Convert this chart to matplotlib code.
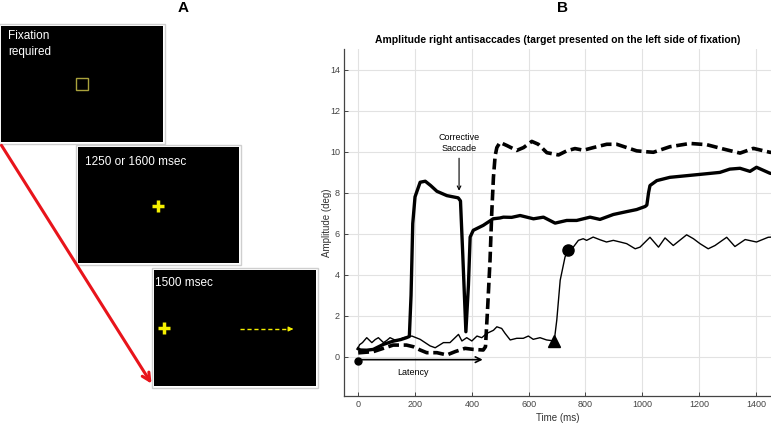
import matplotlib.pyplot as plt
from matplotlib.patches import Rectangle, FancyArrowPatch

plt.rcParams['font.family'] = ['Liberation Sans', 'DejaVu Sans']

# thick solid trace (corrective saccade)
t_solid = [0, 7, 30, 53, 88, 123, 150, 170, 180, 186, 192, 200, 218, 236, 255, 277, 312, 352, 360,
           368, 379, 388, 394, 405, 440, 475, 499, 511, 540, 570, 617, 652, 693, 734, 769, 816, 851,
           898, 945, 980, 1010, 1016, 1022, 1027, 1051, 1097, 1156, 1215, 1273, 1308, 1344, 1379,
           1402, 1449, 1470]
a_solid = [0.4, 0.34, 0.33, 0.37, 0.61, 0.77, 0.85, 0.94, 1.0, 3.0, 6.5, 7.8, 8.51, 8.56, 8.35, 8.07,
           7.86, 7.75, 7.6, 5.0, 1.23, 3.5, 5.84, 6.17, 6.41, 6.73, 6.77, 6.81, 6.8, 6.89, 6.73, 6.81,
           6.52, 6.65, 6.65, 6.81, 6.7, 6.94, 7.08, 7.18, 7.33, 7.4, 8.0, 8.35, 8.59, 8.75, 8.83, 8.91,
           8.99, 9.15, 9.19, 9.04, 9.24, 8.95, 8.9]

# thin solid trace
t_thin = [0, 5, 15, 30, 48, 60, 71, 89, 100, 112, 136, 159, 189, 218, 253, 271, 300, 323, 341, 353,
          365, 382, 400, 418, 435, 453, 476, 488, 505, 517, 535, 558, 581, 599, 616, 640, 663, 690,
          699, 711, 728, 740, 757, 775, 792, 804, 827, 851, 874, 898, 922, 945, 975, 992, 1027, 1057,
          1080, 1109, 1156, 1180, 1203, 1232, 1256, 1297, 1326, 1362, 1402, 1443, 1470]
a_thin = [0.45, 0.6, 0.7, 0.94, 0.7, 0.85, 0.94, 0.7, 0.8, 0.94, 0.78, 0.94, 1.02, 0.86, 0.54, 0.45,
          0.7, 0.7, 0.94, 1.1, 0.78, 0.94, 0.78, 1.02, 0.94, 1.15, 1.3, 1.47, 1.39, 1.15, 0.83, 0.91,
          0.91, 1.02, 0.86, 0.94, 0.83, 0.78, 1.8, 3.74, 4.87, 5.19, 5.35, 5.68, 5.76, 5.68, 5.84,
          5.71, 5.6, 5.68, 5.6, 5.52, 5.27, 5.35, 5.83, 5.35, 5.8, 5.43, 5.95, 5.76, 5.52, 5.27, 5.43,
          5.83, 5.38, 5.72, 5.6, 5.83, 5.85]

# thick dashed trace
t_dash = [0, 7, 53, 88, 123, 170, 194, 218, 241, 277, 312, 341, 376, 405, 440, 448, 456, 464, 470,
          476, 482, 488, 499, 523, 558, 582, 611, 634, 664, 705, 734, 763, 793, 828, 875, 910, 945,
          980, 1010, 1039, 1097, 1168, 1227, 1285, 1344, 1391, 1449, 1470]
a_dash = [0.2, 0.21, 0.26, 0.42, 0.58, 0.58, 0.5, 0.34, 0.21, 0.21, 0.1, 0.26, 0.42, 0.37, 0.34,
          0.5, 2.5, 4.71, 7.0, 8.75, 9.8, 10.2, 10.45, 10.3, 10.06, 10.2, 10.5, 10.36, 9.95, 9.84,
          10.04, 10.15, 10.07, 10.2, 10.36, 10.36, 10.2, 10.04, 10.0, 9.97, 10.24, 10.4, 10.34,
          10.13, 9.93, 10.16, 9.97, 9.95]

onset_pt = (0, -0.2)
latency_end = 448
triangle_pt = (690, 0.78)
circle_pt = (740, 5.19)
corrective_x = 355

fig = plt.figure(figsize=(7.71, 4.24), dpi=100)

# panel A: drawn in pixel coordinates on a background axes
bg = fig.add_axes([0, 0, 1, 1])
bg.set_xlim(0, 771)
bg.set_ylim(424, 0)
bg.axis('off')

screens = [(1, 26, 162, 116), (78, 147, 161, 116), (154, 270, 162, 116)]
for x, y, w, h in screens:
    bg.add_patch(Rectangle((x - 2, y - 2), w + 4, h + 4, facecolor='white', edgecolor='#cfcfcf', lw=1))
    bg.add_patch(Rectangle((x, y), w, h, facecolor='black', edgecolor='none'))

bg.text(8, 30, "Fixation\nrequired", color='white', fontsize=8.5, va='top', linespacing=1.4)
bg.add_patch(Rectangle((76, 78), 12, 12, facecolor='none', edgecolor='#a9a23c', lw=1))
bg.text(85, 162, "1250 or 1600 msec", color='white', fontsize=8.5, va='center')
bg.plot([158, 158], [200, 212], color='#f5f000', lw=2.5, solid_capstyle='butt')
bg.plot([152, 164], [206, 206], color='#f5f000', lw=2.5, solid_capstyle='butt')
bg.text(155, 283, "1500 msec", color='white', fontsize=8.5, va='center')
bg.plot([164, 164], [322, 334], color='#f5f000', lw=2.5, solid_capstyle='butt')
bg.plot([158, 170], [328, 328], color='#f5f000', lw=2.5, solid_capstyle='butt')
bg.plot([240, 290], [329, 329], color='#f5f000', lw=1, dashes=(3, 2))
bg.add_patch(FancyArrowPatch((288, 329), (296, 329), arrowstyle='-|>', mutation_scale=7,
                             color='#f5f000', lw=0.8))
bg.add_patch(FancyArrowPatch((0, 143), (153, 386), arrowstyle='->', mutation_scale=14,
                             color='#e8141b', lw=2.2))
bg.text(183, 8, "A", fontsize=11, fontweight='bold', ha='center', va='center')
bg.text(563, 8, "B", fontsize=11, fontweight='bold', ha='center', va='center')

# panel B
ax = fig.add_axes([344 / 771, 1 - 396 / 424, 1 - 344 / 771, (396 - 49) / 424])
ax.plot(t_dash, a_dash, color='black', lw=2.6, dashes=(3, 1.3), zorder=3)
ax.plot(t_solid, a_solid, color='black', lw=2.4, zorder=4)
ax.plot(t_thin, a_thin, color='black', lw=1.0, zorder=5)
ax.plot(*triangle_pt, marker='^', color='black', ms=8, zorder=6)
ax.plot(*circle_pt, marker='o', color='black', ms=8, zorder=6)
ax.plot(*onset_pt, marker='o', color='black', ms=5, zorder=6)
ax.annotate('', xy=(latency_end, -0.13), xytext=(onset_pt[0], -0.13),
            arrowprops=dict(arrowstyle='->', color='black', lw=1.2))
ax.text(194, -0.77, "Latency", fontsize=6.5, ha='center', va='center')
ax.annotate("Corrective\nSaccade", xy=(corrective_x, 7.96), xytext=(corrective_x, 9.95),
            fontsize=6.5, ha='center', va='bottom', linespacing=1.2,
            arrowprops=dict(arrowstyle='->', color='black', lw=0.8))

ax.set_xlim(-50, 1453)
ax.set_ylim(-1.9, 15)
ax.set_xticks(range(0, 1401, 200))
ax.set_yticks(range(0, 15, 2))
ax.grid(True, color='#e2e2e2', lw=0.8)
ax.set_axisbelow(True)
for s in ['top', 'right']:
    ax.spines[s].set_visible(False)
for s in ['left', 'bottom']:
    ax.spines[s].set_color('#444444')
    ax.spines[s].set_linewidth(0.9)
ax.tick_params(labelsize=6.5, colors='#444444', length=3, width=0.7, direction='in', pad=3)
ax.set_xlabel("Time (ms)", fontsize=7, color='#333333', labelpad=3)
ax.set_ylabel("Amplitude (deg)", fontsize=7, color='#333333')
ax.yaxis.set_label_coords(-0.028, 0.5)
ax.set_title("Amplitude right antisaccades (target presented on the left side of fixation)",
             fontsize=7.5, fontweight='bold', pad=4)
ax.patch.set_alpha(0)

fig.savefig("out.png", dpi=100)
